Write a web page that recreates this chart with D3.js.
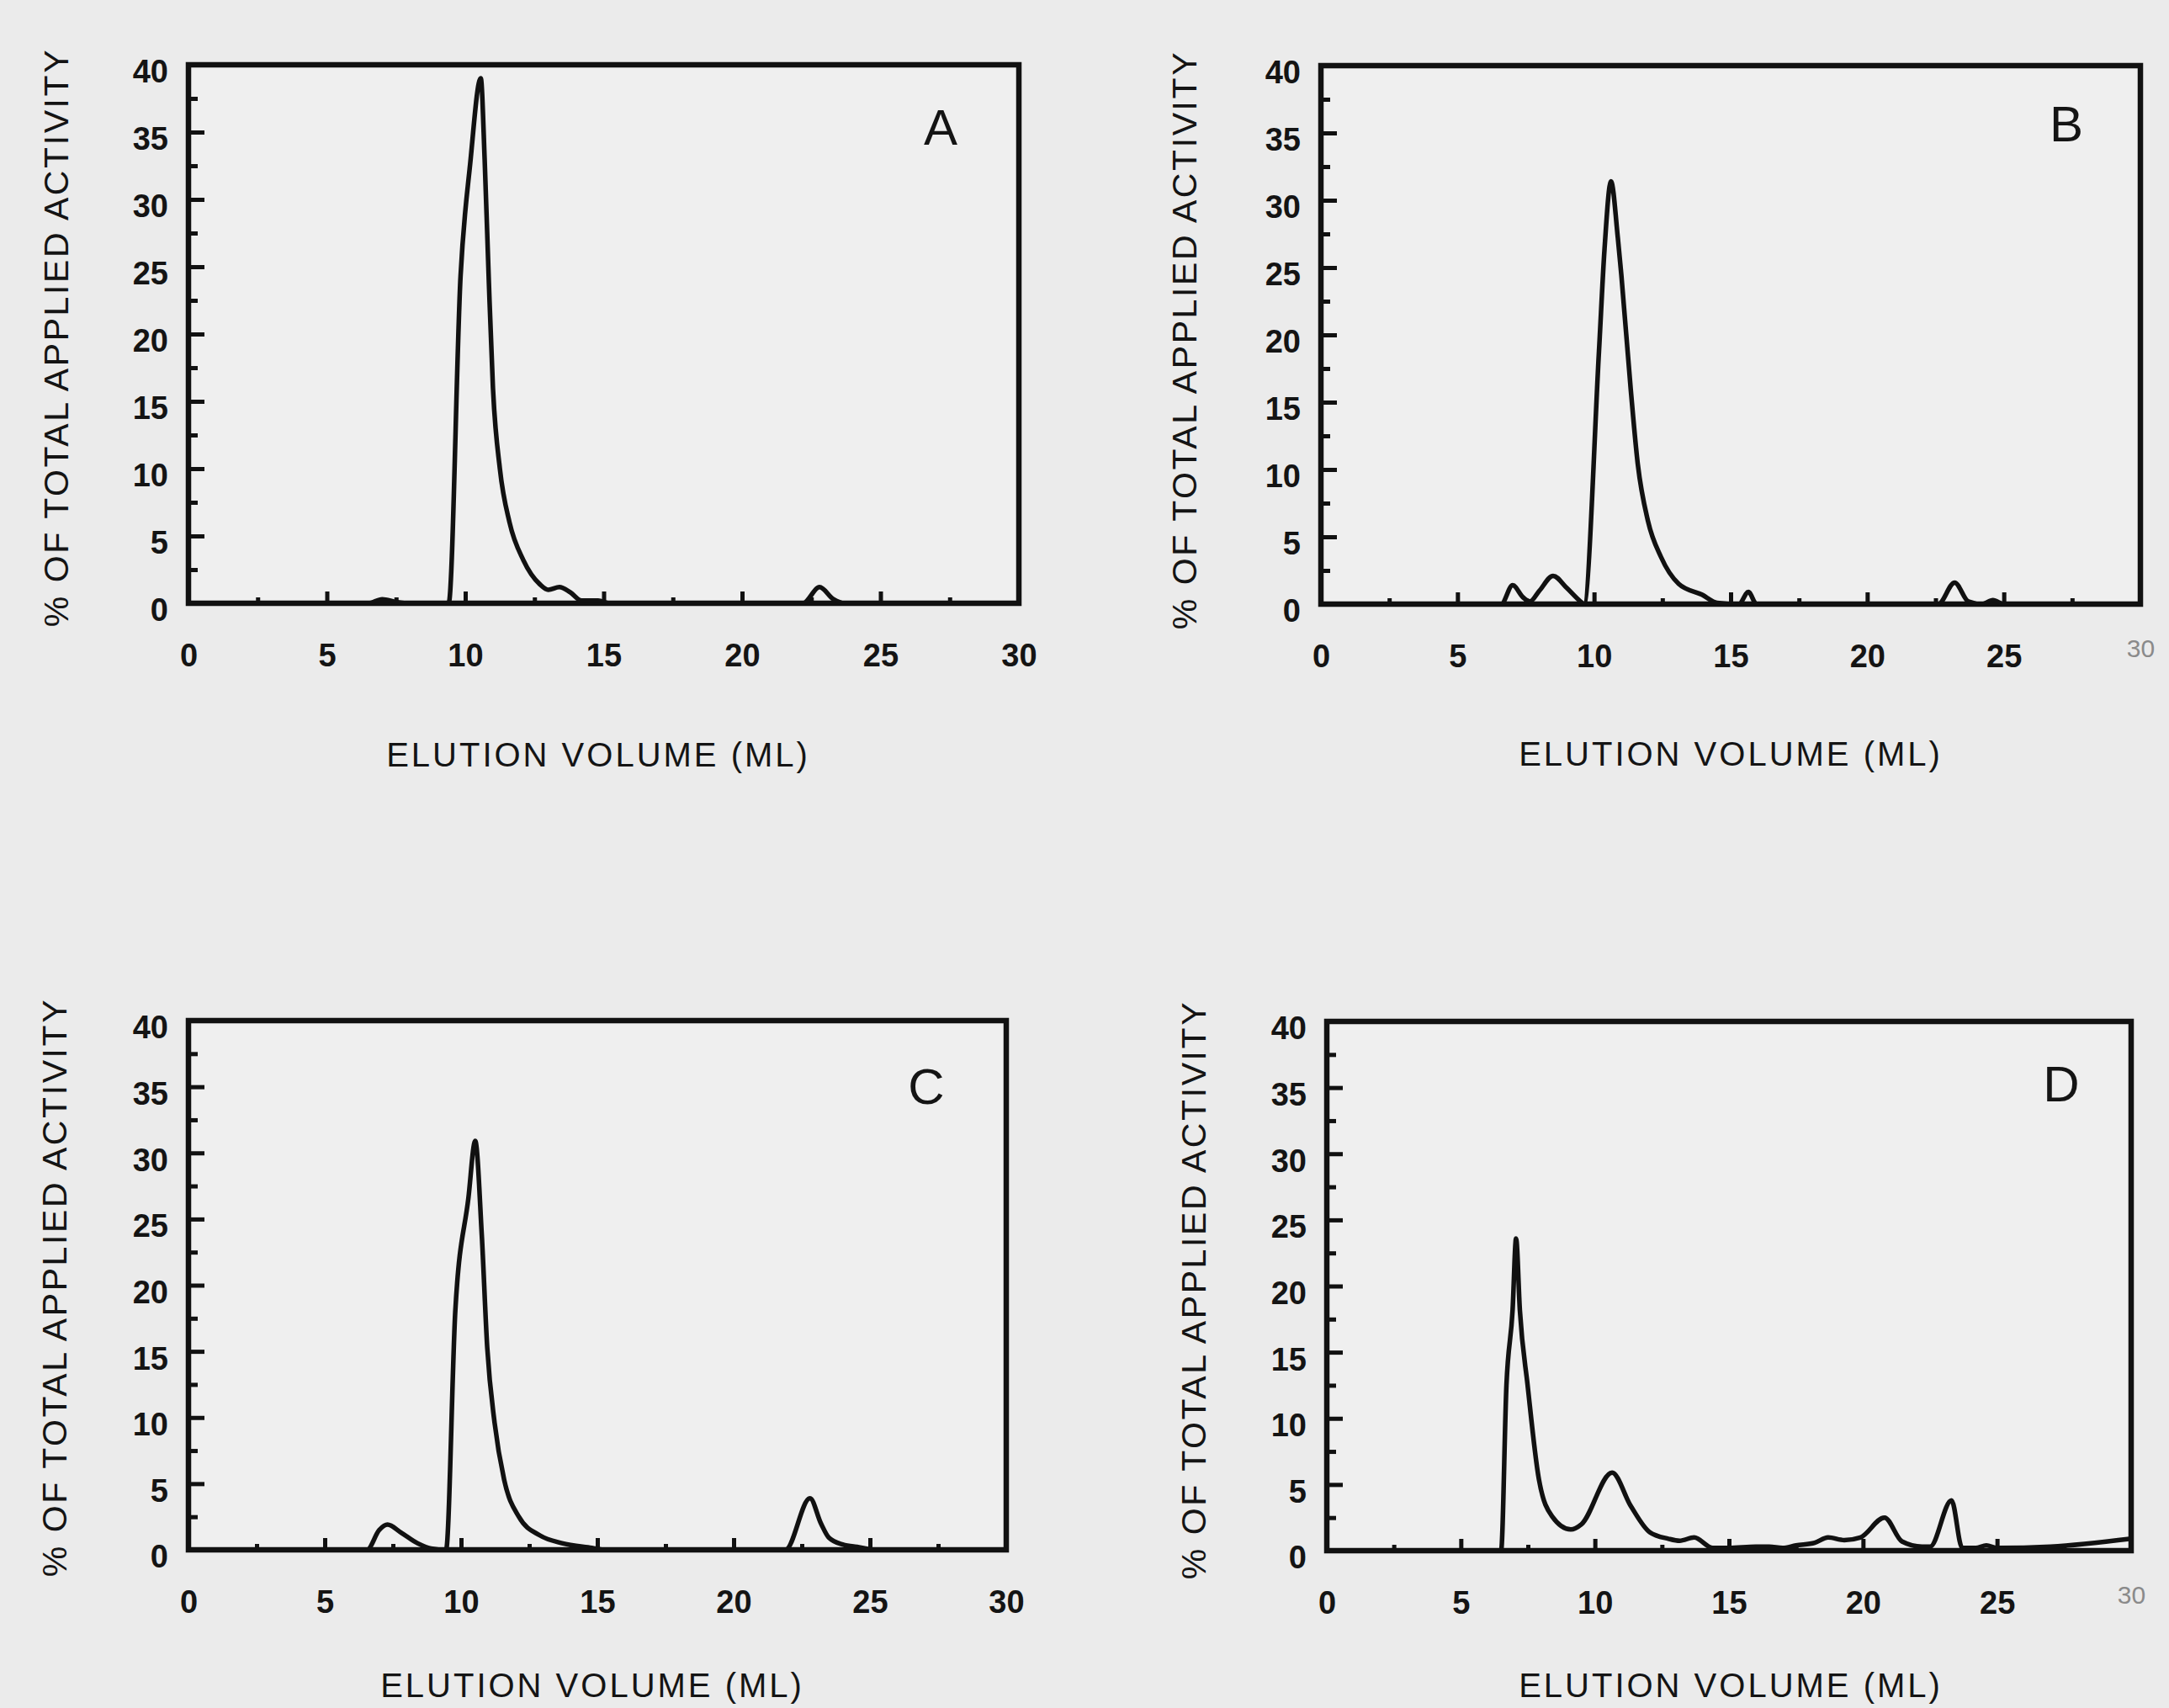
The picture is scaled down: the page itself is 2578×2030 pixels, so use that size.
<!DOCTYPE html>
<html>
<head>
<meta charset="utf-8">
<script src="https://cdn.jsdelivr.net/npm/d3@7"></script>
<style>
  html, body { margin: 0; padding: 0; background: #ebebeb; }
  svg { display: block; }
  text { font-family: "Liberation Sans", Arial, sans-serif; fill: #141414; }
</style>
</head>
<body>
<div id="chart"></div>
<script>
// Elution profiles, [volume (ml), % of total applied activity]
const panelA = [[0, 0], [6.5, 0], [7, 0.3], [7.5, 0.1], [8, 0], [9.4, 0], [9.83, 24.3], [10.18, 32.7],
  [10.56, 39], [10.7, 33], [10.85, 24], [11.0, 16], [11.25, 10], [11.6, 6], [12.1, 3.2], [12.7, 1.4],
  [13.0, 1.0], [13.4, 1.2], [13.8, 0.8], [14.2, 0.2], [14.8, 0.2], [15.2, 0], [22.2, 0], [22.8, 1.2],
  [23.3, 0.3], [23.7, 0], [30, 0]];
const panelB = [[0, 0], [6.6, 0], [7.02, 1.4], [7.4, 0.5], [7.65, 0.2], [8.0, 1.0], [8.5, 2.1], [9.0, 1.2],
  [9.5, 0.2], [9.63, 0], [10.18, 18.8], [10.38, 26.3], [10.62, 31.4], [10.87, 27.2], [11.0, 24.4],
  [11.34, 16], [11.6, 10.4], [11.97, 6.2], [12.45, 3.5], [13.1, 1.5], [13.95, 0.7], [14.5, 0.1], [15.3, 0],
  [15.65, 0.9], [15.95, 0], [22.6, 0], [23.2, 1.6], [23.7, 0.2], [24.2, 0], [24.6, 0.3], [25, 0], [30, 0]];
const panelC = [[0, 0], [6.55, 0], [7.0, 1.5], [7.3, 1.9], [7.8, 1.3], [8.4, 0.5], [8.9, 0.1], [9.45, 0],
  [9.79, 18.1], [10.27, 26.6], [10.52, 30.9], [10.76, 23.8], [10.96, 15.3], [11.23, 9.6],
  [11.58, 5.3], [12.12, 2.5], [12.9, 1.08], [13.7, 0.5], [14.8, 0.15], [15.3, 0], [21.9, 0], [22.8, 3.9],
  [23.2, 2.0], [23.5, 0.9], [24.0, 0.4], [24.6, 0.2], [25.2, 0], [30, 0]];
const panelD = [[0, 0], [6.5, 0], [6.7, 12.5], [6.93, 18.2], [7.06, 23.6], [7.2, 18.2], [7.49, 12.5],
  [7.91, 5.4], [8.4, 2.6], [9.1, 1.6], [9.5, 2.0], [10.64, 5.9], [11.33, 3.4], [12.04, 1.4], [12.74, 0.9],
  [13.16, 0.75], [13.7, 1.0], [14.4, 0.2], [15, 0.2], [16, 0.3], [16.5, 0.3], [17, 0.2], [17.5, 0.4],
  [18.2, 0.6], [18.7, 1.0], [19.3, 0.8], [19.9, 1.0], [20.8, 2.5], [21.45, 0.7], [22.2, 0.3], [22.5, 0.3],
  [23.3, 3.8], [23.7, 0.2], [24.2, 0.2], [24.6, 0.4], [25, 0.2], [27, 0.3], [30, 0.9]];

const xMajorTicks = [0, 5, 10, 15, 20, 25, 30];
const xMinorTicks = [2.5, 7.5, 12.5, 17.5, 22.5, 27.5];
const yMajorTicks = [0, 5, 10, 15, 20, 25, 30, 35, 40];
const yMinorTicks = [2.5, 7.5, 12.5, 17.5, 22.5, 27.5, 32.5, 37.5];
const panelLetters = ['A', 'B', 'C', 'D'];
const xTitle = 'ELUTION VOLUME (ML)';
const yTitle = '% OF TOTAL APPLIED ACTIVITY';

const width = 2578,
  height = 2030;

// where each panel sits on the page
const layout = [
  { data: panelA, l: 224, r: 1211, t: 77, b: 717, letter: [1118, 172], yT: [66, 401], xT: [711, 911], faded: false },
  { data: panelB, l: 1570, r: 2544, t: 78, b: 718, letter: [2456, 168], yT: [1407, 404], xT: [2057, 910], faded: true },
  { data: panelC, l: 224, r: 1196, t: 1213, b: 1842, letter: [1101, 1312], yT: [64, 1530], xT: [704, 2017], faded: false },
  { data: panelD, l: 1577, r: 2533, t: 1214, b: 1843, letter: [2450, 1309], yT: [1418, 1533], xT: [2057, 2017], faded: true },
];

const svg = d3
  .select('#chart')
  .append('svg')
  .attr('width', width)
  .attr('height', height);

svg.append('rect').attr('width', width).attr('height', height).attr('fill', '#ebebeb');

layout.forEach((p, i) => {
  const x = d3.scaleLinear().domain([0, 30]).range([p.l, p.r]);
  const y = d3.scaleLinear().domain([0, 40]).range([p.b, p.t]);
  const g = svg.append('g');

  // plot area
  g.append('rect')
    .attr('x', p.l)
    .attr('y', p.t)
    .attr('width', p.r - p.l)
    .attr('height', p.b - p.t)
    .attr('fill', '#efefef')
    .attr('stroke', '#111')
    .attr('stroke-width', 6.5);

  // y axis: long ticks every 5, short every 2.5, pointing inside
  g.append('g')
    .attr('transform', `translate(${p.l},0)`)
    .call(d3.axisLeft(y).tickValues(yMinorTicks).tickSize(-11).tickFormat(''))
    .call((a) => a.select('.domain').remove());
  const yAx = g.append('g')
    .attr('transform', `translate(${p.l},0)`)
    .call(d3.axisLeft(y).tickValues(yMajorTicks).tickSize(-19).tickPadding(24))
    .call((a) => a.select('.domain').remove());
  yAx.selectAll('text')
    .attr('dy', '0.55em')
    .style('font-size', '38px')
    .style('font-weight', 'bold');

  // x axis
  g.append('g')
    .attr('transform', `translate(0,${p.b})`)
    .call(d3.axisBottom(x).tickValues(xMinorTicks).tickSize(-7).tickFormat(''))
    .call((a) => a.select('.domain').remove());
  const xAx = g.append('g')
    .attr('transform', `translate(0,${p.b})`)
    .call(d3.axisBottom(x).tickValues(xMajorTicks).tickSize(-14).tickPadding(48))
    .call((a) => a.select('.domain').remove());
  xAx.selectAll('text')
    .style('font-size', '38px')
    .style('font-weight', 'bold');
  if (p.faded) {
    // the last label is printed faint and small in B and D
    xAx.selectAll('.tick')
      .filter((d) => d === 30)
      .select('text')
      .style('font-size', '30px')
      .style('font-weight', 'normal')
      .style('fill', '#8a8a8a')
      .attr('y', 42);
  }
  g.selectAll('.tick line').attr('stroke', '#111').attr('stroke-width', 5);

  // the profile
  g.append('path')
    .datum(p.data)
    .attr('fill', 'none')
    .attr('stroke', '#111')
    .attr('stroke-width', 5.5)
    .attr('stroke-linejoin', 'round')
    .attr('d', d3.line().x((d) => x(d[0])).y((d) => y(d[1])).curve(d3.curveMonotoneX));

  // labels
  g.append('text')
    .attr('x', p.letter[0])
    .attr('y', p.letter[1])
    .attr('text-anchor', 'middle')
    .style('font-size', '60px')
    .text(panelLetters[i]);

  g.append('text')
    .attr('transform', `translate(${p.yT[0]},${p.yT[1]}) rotate(-90)`)
    .attr('text-anchor', 'middle')
    .attr('dy', '0.36em')
    .style('font-size', '41px')
    .style('letter-spacing', '2.6px')
    .text(yTitle);

  g.append('text')
    .attr('x', p.xT[0])
    .attr('y', p.xT[1])
    .attr('text-anchor', 'middle')
    .style('font-size', '40px')
    .style('letter-spacing', '3px')
    .text(xTitle);
});
</script>
</body>
</html>
